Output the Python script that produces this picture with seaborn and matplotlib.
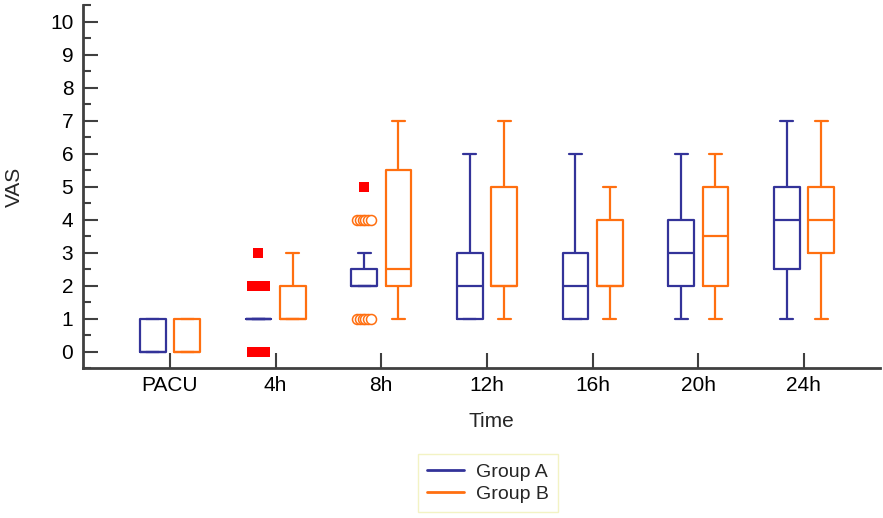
import numpy as np
import pandas as pd
import matplotlib.pyplot as plt
import seaborn as sns
from matplotlib.lines import Line2D
from matplotlib.ticker import MultipleLocator

# categories
times = ["PACU", "4h", "8h", "12h", "16h", "20h", "24h"]
groups = ["Group A", "Group B"]

# five-number summaries
a_min = [0, 1, 2, 1, 1, 1, 1]
a_q1 = [0, 1, 2, 1, 1, 2, 2.5]
a_med = [0, 1, 2, 2, 2, 3, 4]
a_q3 = [1, 1, 2.5, 3, 3, 4, 5]
a_max = [1, 1, 3, 6, 6, 6, 7]

b_min = [0, 1, 1, 1, 1, 1, 1]
b_q1 = [0, 1, 2, 2, 2, 2, 3]
b_med = [0, 1, 2.5, 2, 2, 3.5, 4]
b_q3 = [1, 2, 5.5, 5, 4, 5, 5]
b_max = [1, 3, 7, 7, 5, 6, 7]

# outlying values (far out = red squares, outside = open circles)
out_time = ["4h", "4h", "4h", "8h", "8h", "8h"]
out_group = ["Group A"] * 6
out_value = [3, 2, 0, 5, 4, 1]
out_count = [1, 4, 4, 1, 6, 6]
out_kind = ["far", "far", "far", "far", "outside", "outside"]

blue = "#333399"
orange = "#ff6f10"
axis_col = "#404040"

rows = []
for i, t in enumerate(times):
    for g, s in zip(groups, [(a_min, a_q1, a_med, a_q3, a_max),
                             (b_min, b_q1, b_med, b_q3, b_max)]):
        for v in (s[0][i], s[1][i], s[2][i], s[3][i], s[4][i]):
            rows.append({"Time": t, "Group": g, "VAS": v})
df = pd.DataFrame(rows)

sns.set_style("ticks")
plt.rcParams["font.family"] = ["Liberation Sans", "DejaVu Sans"]

fig = plt.figure(figsize=(8.83, 5.18), dpi=100)
ax = fig.add_axes([83 / 883, 1 - 368 / 518, 797 / 883, 363 / 518])

width = 0.65
sns.boxplot(data=df, x="Time", y="VAS", hue="Group", order=times,
            hue_order=groups, palette={"Group A": blue, "Group B": orange},
            whis=(0, 100), showfliers=False, fill=False, width=width,
            gap=0.25, linewidth=1.6, legend=False, ax=ax)

offsets = {"Group A": -width / 4, "Group B": width / 4}
for t, g, v, n, k in zip(out_time, out_group, out_value, out_count, out_kind):
    base = times.index(t) + offsets[g]
    xs = base + (np.linspace(-0.065, 0.065, n) if n > 1 else np.array([0.0]))
    for x in xs:
        if k == "far":
            ax.scatter(x, v, marker="s", s=52, color="#ff0000",
                       linewidths=0, zorder=4)
        else:
            ax.scatter(x, v, marker="o", s=52, facecolor="white",
                       edgecolor=orange, linewidths=1.1, zorder=4)

ax.set_xlim(-0.823, 6.72)
ax.set_ylim(-0.5, 10.5)
ax.set_yticks(range(0, 11))
ax.yaxis.set_minor_locator(MultipleLocator(0.5))

ax.tick_params(axis="both", which="major", direction="in", length=11,
               width=1.5, color=axis_col, labelcolor="black", labelsize=15)
ax.tick_params(axis="y", which="minor", direction="in", length=6,
               width=1.5, color=axis_col)
ax.tick_params(axis="x", pad=6)
ax.tick_params(axis="y", pad=7)

sns.despine(ax=ax)
for side in ["left", "bottom"]:
    ax.spines[side].set_color(axis_col)
    ax.spines[side].set_linewidth(2)

ax.set_xlabel("Time", fontsize=15)
ax.set_ylabel("VAS", fontsize=15)
ax.xaxis.set_label_coords(0.512, -0.12)
ax.yaxis.set_label_coords(-0.074, 0.5)

handles = [Line2D([0], [0], color=blue, lw=2),
           Line2D([0], [0], color=orange, lw=2)]
leg = fig.legend(handles, groups, loc="center",
                 bbox_to_anchor=(488 / 883, 1 - 483 / 518), fontsize=14,
                 frameon=True, fancybox=False, edgecolor="#f3f3c4",
                 framealpha=1, handlelength=1.9, handletextpad=0.6,
                 labelspacing=0.2, borderpad=0.5)
leg.get_frame().set_linewidth(1)

fig.savefig("out.png", dpi=100)
